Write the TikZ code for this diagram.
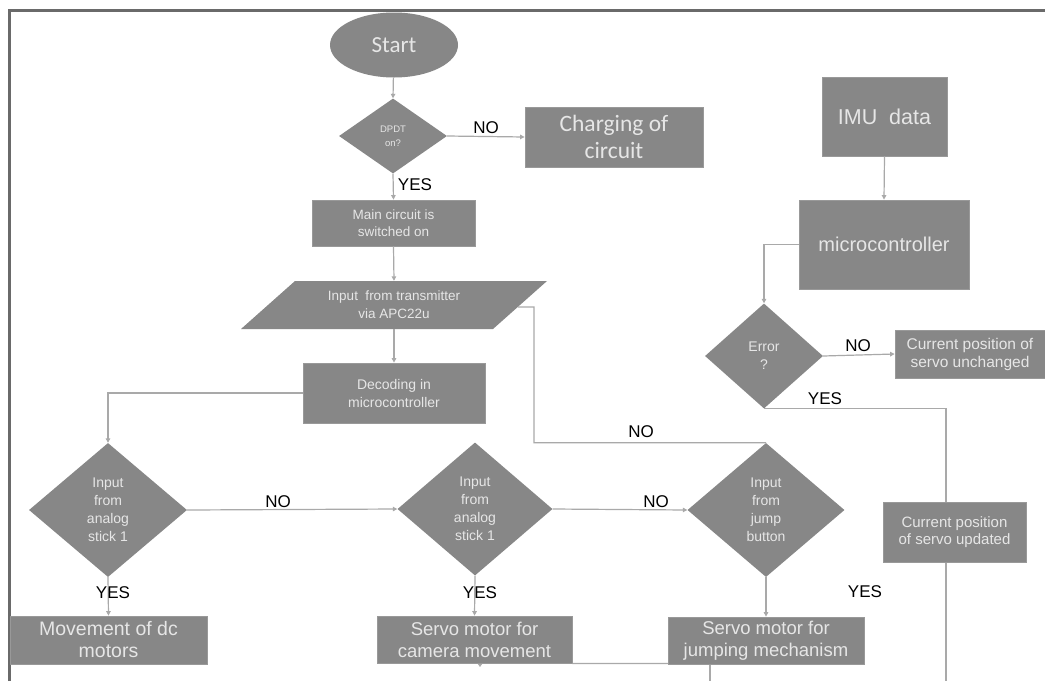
\documentclass[tikz,border=0pt]{standalone}
\usepackage{fontspec}
\setmainfont{Liberation Sans}
\newfontfamily\carl{Carlito}
\usetikzlibrary{shapes.geometric,arrows.meta,calc}
\definecolor{boxfill}{HTML}{878787}
\definecolor{boxtext}{HTML}{E6E6E6}
\definecolor{conncol}{HTML}{A9A9A9}
\definecolor{framecol}{HTML}{6A6A6A}
\tikzset{
  gbox/.style={rectangle, fill=boxfill, draw=boxfill!85!white, line width=0.8pt, text=boxtext, align=center, inner sep=0pt},
  gdia/.style={diamond, fill=boxfill, draw=none, text=boxtext, align=center, inner sep=0pt},
  conn/.style={draw=conncol, line width=1.2pt},
  arr/.style={conn, -{Triangle[length=4.5pt,width=4.5pt]}},
  lbl/.style={font=\fontsize{17}{18}\selectfont, text=black, inner sep=0pt},
  sm/.style={font=\fontsize{14}{18}\selectfont},
  md/.style={font=\fontsize{18.5}{22}\selectfont}
}
\begin{document}
\begin{tikzpicture}[x=1pt,y=-1pt]
\useasboundingbox (0,0) rectangle (1045,681);
\fill[white] (0,0) rectangle (1045,681);
% frame
\draw[framecol, line width=3pt] (9,681) -- (9,10.5) -- (1045,10.5);

% left column
\node[ellipse, fill=boxfill, text=boxtext, minimum width=128pt, minimum height=65pt, inner sep=0pt, font=\carl\fontsize{23}{26}\selectfont] (start) at (394,45) {Start};
\node[gdia, minimum width=108pt, minimum height=75pt, font=\fontsize{9.5}{14}\selectfont] (dpdt) at (393,136) {DPDT\\on?};
\node[gbox, minimum width=178pt, minimum height=60pt, font=\carl\fontsize{23.5}{27}\selectfont] (charge) at (614,137) {Charging of\\circuit};
\node[gbox, minimum width=163pt, minimum height=46pt, font=\fontsize{13.5}{17}\selectfont] (main) at (393.5,223) {Main circuit is\\switched on};

% parallelogram input
\coordinate (pTL) at (295,281);
\coordinate (pTR) at (547,281);
\coordinate (pBR) at (493,329);
\coordinate (pBL) at (241,329);
\fill[boxfill] (pTL) -- (pTR) -- (pBR) -- (pBL) -- cycle;
\node[rectangle, minimum width=252pt, minimum height=48pt, inner sep=0pt, text=boxtext, align=center, font=\fontsize{13.5}{18}\selectfont] (inp) at (394,305) {Input \ from transmitter\\via APC22u};
\coordinate (inpR) at ($(pTR)!0.54!(pBR)$);

\node[gbox, minimum width=182pt, minimum height=60pt, sm] (dec) at (394,393) {Decoding in\\microcontroller};

\node[gdia, minimum width=158pt, minimum height=134pt, sm] (d1) at (108,510) {Input\\from\\analog\\stick 1};
\node[gdia, minimum width=155pt, minimum height=133pt, sm] (d2) at (475,509) {Input\\from\\analog\\stick 1};
\node[gdia, minimum width=157pt, minimum height=134pt, sm] (d3) at (766,510) {Input\\from\\jump\\button};

\node[gbox, minimum width=197pt, minimum height=48pt, font=\fontsize{19.5}{22}\selectfont] (mov) at (108.5,640) {Movement of dc\\motors};
\node[gbox, minimum width=195pt, minimum height=47pt, md] (cam) at (474.5,639.5) {Servo motor for\\camera movement};

% right column
\node[gbox, minimum width=125pt, minimum height=79pt, font=\fontsize{21.5}{24}\selectfont] (imu) at (884.5,116.5) {IMU \ data};
\node[gbox, minimum width=170pt, minimum height=89pt, font=\fontsize{20}{24}\selectfont] (mcu) at (884,244.5) {microcontroller};
\node[gdia, minimum width=118pt, minimum height=105pt, sm] (err) at (764,356) {Error\\?};
\node[gbox, minimum width=150pt, minimum height=48pt, font=\fontsize{15.5}{18}\selectfont] (unch) at (970,354) {Current position of\\servo unchanged};

\coordinate (bot1) at (710,681);
\coordinate (bot2) at (946,681);

% connectors drawn under the boxes they pass behind
\draw[conn] (err.south) -| (bot2);

\node[gbox, minimum width=143pt, minimum height=60pt, font=\fontsize{15}{17}\selectfont] (upd) at (954.5,532) {Current position\\of servo updated};

\draw[conn] (710,664) -- (bot1);
\draw[conn] (cam.south east) -- (668,663.5);
\node[gbox, minimum width=196pt, minimum height=47pt, md] (jmp) at (766,640.5) {Servo motor for\\jumping mechanism};
\draw[conn, -{Triangle[length=3pt,width=4pt]}] (480,663.5) -- (480,667);

\draw[arr] (start) -- (dpdt.north);
\draw[arr] (dpdt.east) -- (charge.west);
\draw[arr] (dpdt.south) -- (main.north);
\draw[arr] (main.south) -- (inp.north);
\draw[arr] (inp.south) -- (dec.north);
\draw[arr] (dec.west) -| (d1.north);
\draw[conn] (inpR) -- (534,307) |- (d3.north);
\draw[arr] (d1.east) -- (d2.west);
\draw[arr] (d2.east) -- (d3.west);
\draw[arr] (d1.south) -- (mov.north);
\draw[arr] (d2.south) -- (cam.north);
\draw[arr] (d3.south) -- (jmp.north);
\draw[arr] (imu.south) -- (mcu.north);
\draw[arr] (mcu.west) -| (err.north);
\draw[arr] (err.east) -- (unch.west);

% labels
\node[lbl] (l1) at (486,128) {NO};
\node[lbl] (l2) at (415,185) {YES};
\node[lbl] (l3) at (641,432) {NO};
\node[lbl] (l4) at (858,346) {NO};
\node[lbl] (l5) at (825,399) {YES};
\node[lbl] (l6) at (278,502) {NO};
\node[lbl] (l7) at (113,593) {YES};
\node[lbl] (l8) at (480,593) {YES};
\node[lbl] (l9) at (656,502) {NO};
\node[lbl] (l10) at (865,592) {YES};
\end{tikzpicture}
\end{document}
